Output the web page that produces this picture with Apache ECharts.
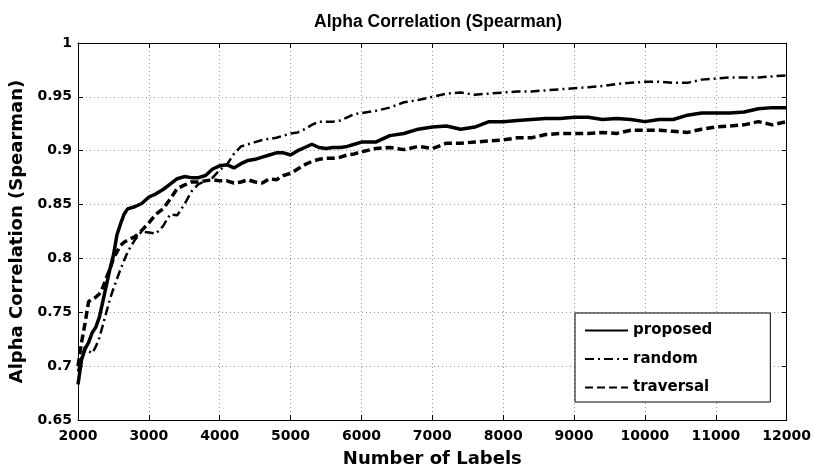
<!DOCTYPE html>
<html>
<head>
<meta charset="utf-8">
<script src="https://cdn.jsdelivr.net/npm/echarts@6/dist/echarts.min.js"></script>
<style>
  html, body { margin: 0; padding: 0; background: #fff; }
  #chart { width: 814px; height: 473px; }
</style>
</head>
<body>
<div id="chart"></div>
<script>
// Number of labels (x positions)
const labelCounts = [
  2000, 2050, 2100, 2150, 2200, 2250, 2300, 2350, 2400, 2450, 2500, 2550, 2600, 2650, 2700,
  2800, 2900, 3000, 3100, 3200, 3300, 3400, 3500, 3600, 3700, 3800, 3900, 4000, 4100, 4200,
  4300, 4400, 4500, 4600, 4700, 4800, 4900, 5000, 5100, 5200, 5300, 5400, 5500, 5600, 5700,
  5800, 5900, 6000, 6200, 6400, 6600, 6800, 7000, 7200, 7400, 7600, 7800, 8000, 8200, 8400,
  8600, 8800, 9000, 9200, 9400, 9600, 9800, 10000, 10200, 10400, 10600, 10800, 11000, 11200,
  11400, 11600, 11800, 12000
];

// Alpha correlation per method
const proposed = [
  0.683, 0.706, 0.716, 0.722, 0.731, 0.736, 0.745, 0.760, 0.775, 0.790, 0.803, 0.822, 0.832, 0.841, 0.846,
  0.848, 0.851, 0.857, 0.860, 0.864, 0.869, 0.874, 0.876, 0.875, 0.875, 0.877, 0.883, 0.886, 0.887, 0.884,
  0.888, 0.891, 0.892, 0.894, 0.896, 0.898, 0.898, 0.896, 0.900, 0.903, 0.906, 0.903, 0.902, 0.903, 0.903,
  0.904, 0.906, 0.908, 0.908, 0.914, 0.916, 0.920, 0.922, 0.923, 0.920, 0.922, 0.927, 0.927, 0.928, 0.929,
  0.930, 0.930, 0.931, 0.931, 0.929, 0.930, 0.929, 0.927, 0.929, 0.929, 0.933, 0.935, 0.935, 0.935,
  0.936, 0.939, 0.940, 0.940
];
const random = [
  0.695, 0.708, 0.718, 0.714, 0.712, 0.718, 0.726, 0.738, 0.750, 0.762, 0.772, 0.781, 0.790, 0.798, 0.806,
  0.817, 0.825, 0.824, 0.823, 0.830, 0.841, 0.840, 0.850, 0.862, 0.869, 0.872, 0.875, 0.882, 0.887, 0.897,
  0.904, 0.906, 0.908, 0.910, 0.911, 0.912, 0.914, 0.916, 0.917, 0.920, 0.924, 0.927, 0.927, 0.927, 0.928,
  0.931, 0.934, 0.935, 0.937, 0.940, 0.945, 0.947, 0.950, 0.953, 0.954, 0.952, 0.953, 0.954, 0.955, 0.955,
  0.956, 0.957, 0.958, 0.959, 0.960, 0.962, 0.963, 0.964, 0.964, 0.963, 0.963, 0.966, 0.967, 0.968,
  0.968, 0.968, 0.969, 0.970
];
const traversal = [
  0.700, 0.722, 0.740, 0.760, 0.762, 0.764, 0.767, 0.773, 0.782, 0.790, 0.800, 0.806, 0.812, 0.815, 0.817,
  0.820, 0.826, 0.833, 0.841, 0.846, 0.855, 0.865, 0.868, 0.871, 0.871, 0.872, 0.873, 0.872, 0.872, 0.870,
  0.871, 0.873, 0.871, 0.870, 0.874, 0.873, 0.877, 0.879, 0.883, 0.887, 0.890, 0.892, 0.893, 0.893, 0.894,
  0.896, 0.897, 0.899, 0.902, 0.903, 0.901, 0.904, 0.902, 0.907, 0.907, 0.908, 0.909, 0.910, 0.912, 0.912,
  0.915, 0.916, 0.916, 0.916, 0.917, 0.916, 0.919, 0.919, 0.919, 0.918, 0.917, 0.920, 0.922, 0.923,
  0.924, 0.927, 0.924, 0.927
];

const font = 'DejaVu Sans';
const pairs = vals => labelCounts.map((x, i) => [x, vals[i]]);

// MATLAB-like box: extra top/right axes with inner ticks and no labels
const boxAxis = {
  axisLine: { show: true, lineStyle: { color: '#000', width: 1 } },
  axisTick: { show: true, inside: true, length: 5, lineStyle: { color: '#000' } },
  axisLabel: { show: false },
  splitLine: { show: false }
};

const option = {
  backgroundColor: '#fff',
  animation: false,
  title: {
    text: 'Alpha Correlation (Spearman)',
    left: 433,
    textAlign: 'center',
    top: 8,
    textStyle: { fontFamily: 'Liberation Sans', fontSize: 17.5, fontWeight: 'bold', color: '#000' }
  },
  legend: {
    data: ['proposed', 'random', 'traversal'],
    orient: 'vertical',
    left: 575,
    top: 313,
    padding: [10, 58, 7, 9],
    itemGap: 13.5,
    itemWidth: 43,
    itemHeight: 14,
    backgroundColor: '#fff',
    borderColor: '#000',
    borderWidth: 1,
    borderRadius: 0,
    itemStyle: { opacity: 0 },
    textStyle: { fontFamily: font, fontSize: 15, fontWeight: 'bold', color: '#000' }
  },
  grid: { left: 78, right: 25, top: 43, bottom: 53 },
  xAxis: [
    {
      type: 'value',
      min: 2000,
      max: 12000,
      interval: 1000,
      name: 'Number of Labels',
      nameLocation: 'middle',
      nameGap: 30,
      nameTextStyle: { fontFamily: font, fontSize: 18, fontWeight: 'bold', color: '#000' },
      axisLine: { show: true, onZero: false, lineStyle: { color: '#000', width: 1 } },
      axisTick: { show: true, inside: true, length: 5, lineStyle: { color: '#000' } },
      axisLabel: {
        fontFamily: font, fontSize: 14, fontWeight: 'bold', color: '#000', margin: 9,
        formatter: v => String(v)
      },
      splitLine: { show: true, lineStyle: { color: '#999', type: [1, 3], width: 1 } }
    },
    Object.assign({ type: 'value', position: 'top', min: 2000, max: 12000, interval: 1000 }, boxAxis)
  ],
  yAxis: [
    {
      type: 'value',
      min: 0.65,
      max: 1,
      interval: 0.05,
      name: 'Alpha Correlation (Spearman)',
      nameLocation: 'middle',
      nameGap: 44,
      nameTextStyle: { fontFamily: font, fontSize: 18, fontWeight: 'bold', color: '#000' },
      axisLine: { show: true, lineStyle: { color: '#000', width: 1 } },
      axisTick: { show: true, inside: true, length: 5, lineStyle: { color: '#000' } },
      axisLabel: { fontFamily: font, fontSize: 14, fontWeight: 'bold', color: '#000', margin: 6 },
      splitLine: { show: true, lineStyle: { color: '#999', type: [1, 3], width: 1 } }
    },
    Object.assign({ type: 'value', position: 'right', min: 0.65, max: 1, interval: 0.05 }, boxAxis)
  ],
  series: [
    {
      name: 'proposed',
      type: 'line',
      symbol: 'none',
      lineStyle: { color: '#000', width: 3.5, type: 'solid' },
      itemStyle: { color: '#000' },
      data: pairs(proposed)
    },
    {
      name: 'random',
      type: 'line',
      symbol: 'none',
      lineStyle: { color: '#000', width: 2.5, type: [9, 4, 2, 4] },
      itemStyle: { color: '#000' },
      data: pairs(random)
    },
    {
      name: 'traversal',
      type: 'line',
      symbol: 'none',
      lineStyle: { color: '#000', width: 3.5, type: [8, 4] },
      itemStyle: { color: '#000' },
      data: pairs(traversal)
    }
  ]
};

const chart = echarts.init(document.getElementById('chart'));
chart.setOption(option);
</script>
</body>
</html>
